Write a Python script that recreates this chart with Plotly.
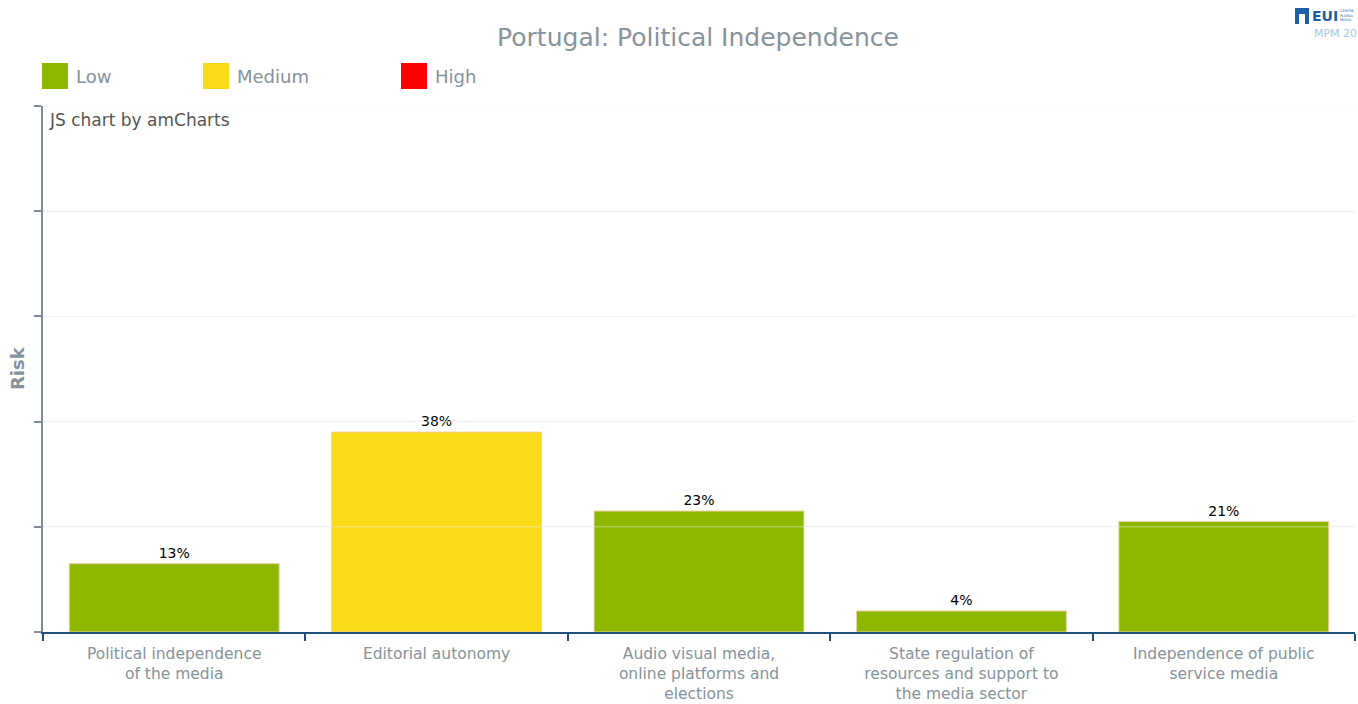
import plotly.graph_objects as go

# ---- data ----
categories = [
    "Political independence<br>of the media",
    "Editorial autonomy",
    "Audio visual media,<br>online platforms and<br>elections",
    "State regulation of<br>resources and support to<br>the media sector",
    "Independence of public<br>service media",
]
risk_values = [13, 38, 23, 4, 21]
risk_levels = ["Low", "Medium", "Low", "Low", "Low"]
legend_levels = ["Low", "Medium", "High"]
level_colors = {"Low": "#8cb800", "Medium": "#fadb17", "High": "#ff0000"}
y_ticks = [0, 20, 40, 60, 80, 100]

W, H = 1358, 704
L, R, T, B = 43, 3, 106, 72
PW, PH = W - L - R, H - T - B


def px_x(px):
    return (px - L) / PW


def px_y(py):
    return (H - B - py) / PH


fig = go.Figure()
fig.add_trace(go.Bar(
    x=categories,
    y=risk_values,
    width=0.8,
    marker=dict(color=[level_colors[l] for l in risk_levels],
                line=dict(color="#f3cf9e", width=1)),
    texttemplate="%{y}%",
    textposition="outside",
    textfont=dict(family="DejaVu Sans", size=14, color="#000000"),
    cliponaxis=False,
    showlegend=False,
    hoverinfo="x+y",
))

shapes = []
# faint gridlines drawn above bars
for v in y_ticks[1:]:
    shapes.append(dict(type="line", xref="paper", yref="y", x0=0, x1=1, y0=v, y1=v,
                       line=dict(color="rgba(236,236,236,0.55)", width=1), layer="above"))

annotations = []
# legend squares + labels
leg_pos = [42, 203, 401]
for lvl, lx in zip(legend_levels, leg_pos):
    shapes.append(dict(type="rect", xref="paper", yref="paper",
                       x0=px_x(lx), x1=px_x(lx + 26), y0=px_y(89), y1=px_y(63),
                       fillcolor=level_colors[lvl], line=dict(width=0)))
    annotations.append(dict(text=lvl, xref="paper", yref="paper", x=px_x(lx + 32), y=px_y(76),
                            xanchor="left", yanchor="middle", showarrow=False,
                            font=dict(family="DejaVu Sans", size=18, color="#86929c")))

annotations.append(dict(text="JS chart by amCharts", xref="paper", yref="paper",
                        x=px_x(47), y=px_y(120), xanchor="left", yanchor="middle",
                        showarrow=False,
                        font=dict(family="DejaVu Sans", size=17, color="#555555")))
annotations.append(dict(text="<b>Risk</b>", xref="paper", yref="paper",
                        x=px_x(17), y=px_y(368), xanchor="center", yanchor="middle",
                        textangle=-90, showarrow=False,
                        font=dict(family="DejaVu Sans", size=18, color="#86929c")))
# logo approximation
shapes.append(dict(type="rect", xref="paper", yref="paper",
                   x0=px_x(1295), x1=px_x(1309), y0=px_y(24), y1=px_y(8),
                   fillcolor="#1b5fa8", line=dict(width=0)))
shapes.append(dict(type="rect", xref="paper", yref="paper",
                   x0=px_x(1299), x1=px_x(1305), y0=px_y(24), y1=px_y(14),
                   fillcolor="white", line=dict(width=0)))
annotations.append(dict(text="<b>EUI</b>", xref="paper", yref="paper",
                        x=px_x(1310), y=px_y(16), xanchor="left", yanchor="middle",
                        showarrow=False,
                        font=dict(family="DejaVu Sans", size=14, color="#1b5fa8")))
annotations.append(dict(text="CENTRE<br>PLURAL<br>MEDIA", xref="paper", yref="paper",
                        x=px_x(1338), y=px_y(16), xanchor="left", yanchor="middle",
                        showarrow=False, align="left",
                        font=dict(family="DejaVu Sans", size=3.5, color="#1b5fa8")))
annotations.append(dict(text="MPM 20", xref="paper", yref="paper",
                        x=px_x(1312), y=px_y(33), xanchor="left", yanchor="middle",
                        showarrow=False,
                        font=dict(family="DejaVu Sans", size=11, color="#a9c8ea")))

fig.update_layout(
    width=W, height=H,
    margin=dict(l=L, r=R, t=T, b=B),
    paper_bgcolor="white", plot_bgcolor="white",
    title=dict(text="Portugal: Political Independence", x=698 / W,
               xref="container", xanchor="center",
               y=1 - 37 / H, yref="container", yanchor="middle",
               font=dict(family="DejaVu Sans", size=25, color="#86929c")),
    bargap=0.2,
    shapes=shapes,
    annotations=annotations,
    xaxis=dict(
        type="category",
        tickson="boundaries",
        ticks="outside", ticklen=7, tickwidth=1.5, tickcolor="#1f4f7a",
        showline=True, linecolor="#1f4f7a", linewidth=2,
        showgrid=False,
        tickfont=dict(family="DejaVu Sans", size=15.5, color="#86929c"),
        ticklabelstandoff=6,
        automargin=False,
        layer="above traces",
    ),
    yaxis=dict(
        range=[0, 100],
        tickvals=y_ticks,
        showticklabels=False,
        ticks="outside", ticklen=7, tickwidth=1.5, tickcolor="#7f8c98",
        showline=True, linecolor="#7f8c98", linewidth=1.5,
        showgrid=True, gridcolor="#f3f3f3", gridwidth=1,
        zeroline=False,
        automargin=False,
    ),
    font=dict(family="DejaVu Sans"),
)

fig.write_html("out.html")
